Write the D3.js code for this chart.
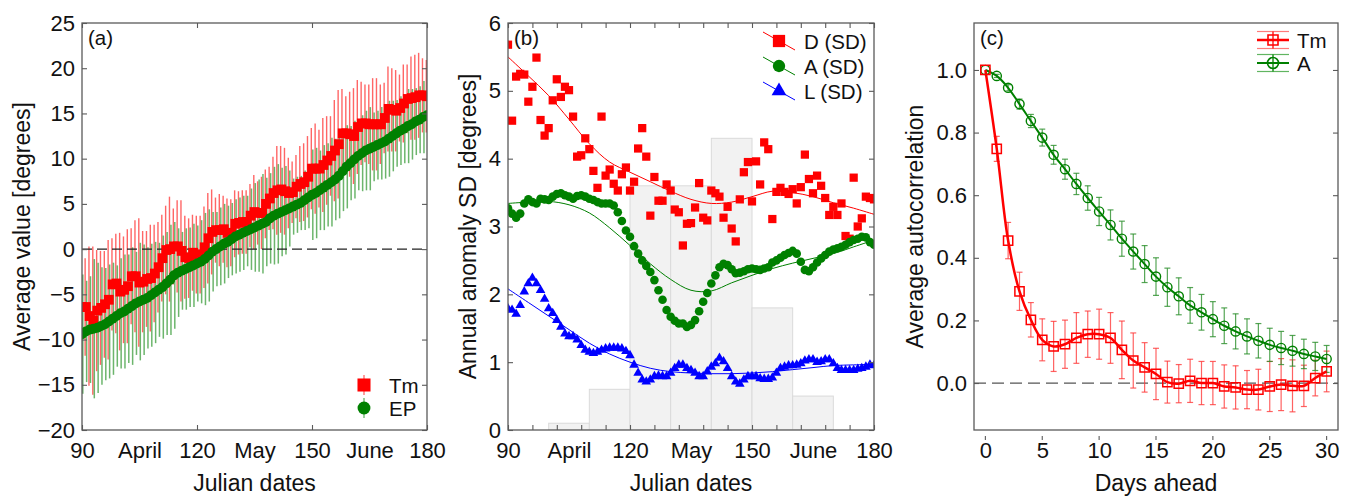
<!DOCTYPE html>
<html>
<head>
<meta charset="utf-8">
<script src="https://cdn.jsdelivr.net/npm/d3@7"></script>
<style>
  body { margin: 0; background: #fff; }
  svg { display: block; }
</style>
</head>
<body>
<svg id="chart" width="1352" height="496"></svg>
<script>
// ---------- Data: panel (a) ----------
const days = d3.range(90, 181);

const tmMean = [
  -6.4, -6.4, -7.4, -7.9, -6.8, -6.5, -6.1, -5.6, -3.9, -3.8,
  -4.7, -4.5, -4.1, -3.0, -3.0, -3.7, -3.6, -3.3, -3.2, -2.7,
  -2.0, -1.0, -0.1, 0.0, 0.3, 0.3, -0.2, -0.9, -1.0, -0.4,
  -0.6, -0.6, 0.2, 1.2, 1.9, 2.1, 2.1, 2.2, 1.8, 1.8,
  2.8, 2.9, 3.0, 3.0, 3.7, 4.1, 4.0, 4.0, 5.0, 5.6,
  6.2, 6.5, 6.6, 6.4, 6.2, 6.3, 6.9, 7.2, 7.4, 8.0,
  8.9, 8.9, 8.9, 9.3, 9.8, 10.3, 10.9, 11.6, 12.8, 12.8,
  12.7, 12.5, 13.5, 13.9, 13.9, 13.8, 13.8, 13.8, 13.8, 14.5,
  15.5, 15.4, 15.3, 15.6, 16.1, 16.6, 16.7, 16.8, 17.0, 17.0,
  16.9
];
const tmSd = [
  5.4, 5.4, 7.7, 8.2, 6.7, 6.3, 5.9, 6.6, 5.1, 5.5,
  6.5, 5.9, 6.3, 5.3, 6.2, 7.1, 5.6, 5.3, 5.9, 5.4,
  5.0, 4.8, 4.9, 5.8, 4.2, 5.1, 5.6, 4.6, 4.4, 4.2,
  4.3, 4.3, 4.5, 5.0, 4.7, 3.6, 4.0, 3.7, 3.8, 3.7,
  3.7, 3.5, 3.5, 3.5, 3.5, 4.1, 3.5, 4.0, 3.8, 3.5,
  4.0, 4.9, 4.8, 4.8, 3.9, 3.4, 3.5, 4.2, 4.3, 4.5,
  4.5, 5.0, 4.3, 5.2, 4.9, 4.4, 5.6, 6.0, 4.9, 4.1,
  4.7, 5.3, 5.2, 4.6, 4.3, 4.4, 5.1, 5.1, 4.4, 3.9,
  4.7, 4.6, 4.5, 3.7, 4.3, 3.8, 4.6, 4.7, 4.7, 4.1,
  4.0
];
const epMean = [
  -9.4, -9.1, -8.9, -8.8, -8.7, -8.5, -8.3, -8.0, -7.7, -7.4,
  -7.1, -6.9, -6.6, -6.3, -6.0, -5.8, -5.6, -5.4, -5.1, -4.8,
  -4.5, -4.2, -3.8, -3.4, -2.9, -2.6, -2.4, -2.2, -2.0, -1.8,
  -1.6, -1.4, -1.1, -0.7, -0.3, 0.0, 0.3, 0.6, 0.8, 1.1,
  1.4, 1.6, 1.8, 2.0, 2.2, 2.4, 2.6, 2.8, 3.0, 3.4,
  3.7, 3.9, 4.1, 4.3, 4.5, 4.7, 4.9, 5.1, 5.4, 5.7,
  6.0, 6.2, 6.5, 6.8, 7.1, 7.4, 7.7, 8.1, 8.6, 9.1,
  9.5, 9.9, 10.3, 10.6, 10.9, 11.1, 11.3, 11.5, 11.7, 11.9,
  12.2, 12.5, 12.8, 13.1, 13.3, 13.6, 13.8, 14.1, 14.3, 14.6,
  14.8
];
const epSd = [
  6.6, 5.6, 5.9, 7.7, 7.2, 6.5, 6.2, 6.3, 6.2, 5.6,
  6.1, 6.3, 6.0, 6.5, 5.7, 6.5, 6.1, 5.6, 5.7, 5.6,
  5.2, 5.7, 5.7, 6.1, 5.9, 4.9, 4.3, 4.5, 4.4, 4.6,
  4.2, 4.6, 5.1, 5.1, 4.4, 4.1, 4.3, 4.4, 4.0, 4.0,
  4.1, 4.1, 4.1, 3.9, 4.5, 4.9, 5.1, 5.5, 4.9, 5.0,
  5.4, 5.5, 4.9, 4.9, 4.2, 3.1, 3.1, 3.0, 3.3, 3.4,
  5.0, 5.0, 4.4, 4.7, 4.6, 4.9, 4.5, 4.7, 4.4, 4.6,
  4.1, 4.3, 3.8, 4.2, 4.4, 4.6, 3.8, 3.8, 4.0, 4.1,
  4.2, 3.9, 3.7, 3.8, 3.8, 4.1, 3.9, 3.7, 3.7, 4.0,
  4.0
];

// ---------- Data: panel (b) ----------
const dSd = [
  5.68, 4.56, 5.21, 5.25, 5.24, 4.84, 5.06, 5.49, 4.57, 4.34,
  4.45, 4.86, 5.17, 4.91, 5.06, 5.01, 4.62, 4.03, 4.05, 4.30,
  4.14, 3.82, 3.57, 4.62, 3.75, 3.84, 3.63, 3.53, 3.77, 3.87,
  3.53, 3.66, 4.15, 4.45, 4.03, 3.16, 3.73, 3.38, 3.38, 3.62,
  3.53, 3.25, 3.21, 2.72, 3.04, 3.05, 3.28, 3.64, 3.13, 3.09,
  3.53, 3.49, 3.44, 3.13, 3.29, 2.97, 2.78, 3.40, 3.80, 3.95,
  3.37, 3.96, 3.62, 4.24, 4.14, 3.11, 3.51, 3.57, 3.51, 3.48,
  3.55, 3.34, 3.58, 4.06, 3.70, 3.49, 3.75, 3.60, 3.42, 3.17,
  3.29, 3.17, 3.34, 2.86, 2.82, 3.72, 3.00, 3.12, 3.44, 3.42,
  3.40
];
const aSd = [
  3.27, 3.19, 3.13, 3.19, 3.34, 3.40, 3.36, 3.34, 3.41, 3.40,
  3.39, 3.44, 3.48, 3.49, 3.46, 3.44, 3.41, 3.45, 3.46, 3.44,
  3.41, 3.39, 3.36, 3.34, 3.34, 3.34, 3.31, 3.21, 3.08, 2.94,
  2.85, 2.71, 2.60, 2.50, 2.42, 2.33, 2.21, 2.06, 1.92, 1.77,
  1.67, 1.61, 1.57, 1.57, 1.52, 1.55, 1.62, 1.75, 1.89, 2.02,
  2.16, 2.28, 2.40, 2.45, 2.43, 2.37, 2.31, 2.32, 2.34, 2.37,
  2.38, 2.37, 2.36, 2.38, 2.40, 2.47, 2.50, 2.54, 2.58, 2.61,
  2.64, 2.60, 2.48, 2.36, 2.34, 2.40, 2.47, 2.53, 2.58, 2.63,
  2.66, 2.68, 2.70, 2.73, 2.77, 2.80, 2.82, 2.85, 2.84, 2.77,
  2.73
];
const lSd = [
  1.79, 1.77, 1.71, 1.84, 2.04, 2.16, 2.24, 2.16, 2.06, 1.93,
  1.79, 1.72, 1.62, 1.52, 1.42, 1.38, 1.38, 1.33, 1.25, 1.18,
  1.15, 1.13, 1.15, 1.18, 1.20, 1.21, 1.21, 1.21, 1.20, 1.16,
  1.10, 0.96, 0.84, 0.74, 0.71, 0.74, 0.79, 0.80, 0.79, 0.79,
  0.84, 0.91, 0.96, 0.96, 0.91, 0.88, 0.84, 0.79, 0.79, 0.86,
  0.93, 0.98, 1.06, 1.01, 0.91, 0.79, 0.71, 0.68, 0.74, 0.79,
  0.79, 0.79, 0.76, 0.75, 0.75, 0.77, 0.84, 0.91, 0.93, 0.95,
  0.95, 0.96, 0.98, 1.02, 1.04, 1.04, 1.00, 1.01, 1.04, 1.04,
  0.98, 0.91, 0.88, 0.88, 0.88, 0.88, 0.90, 0.91, 0.93, 0.96,
  0.95
];
// smooth fits, read every 5 days
const fitDays = d3.range(90, 181, 5);
const dFit = [5.50, 5.22, 4.93, 4.58, 4.22, 3.95, 3.80, 3.66, 3.52, 3.40, 3.34, 3.36, 3.44, 3.52, 3.50, 3.44, 3.35, 3.27, 3.18];
const aFit = [3.34, 3.36, 3.37, 3.32, 3.20, 2.98, 2.72, 2.45, 2.22, 2.06, 2.05, 2.17, 2.28, 2.38, 2.46, 2.53, 2.60, 2.70, 2.80];
const lFit = [2.08, 1.88, 1.68, 1.48, 1.28, 1.12, 1.00, 0.91, 0.86, 0.84, 0.83, 0.83, 0.84, 0.86, 0.89, 0.92, 0.95, 0.96, 0.97];
// background histogram (10-day bins)
const histStart = [100, 110, 120, 130, 140, 150, 160];
const histValue = [0.1, 0.6, 3.6, 3.6, 4.3, 1.8, 0.5];

// ---------- Data: panel (c) ----------
const lags = d3.range(0, 31);
const tmAc = [1.0, 0.748, 0.455, 0.293, 0.202, 0.138, 0.117, 0.124, 0.144, 0.156, 0.156, 0.144, 0.106, 0.072, 0.05, 0.029, 0.003, -0.002, 0.007, 0.0, 0.0, -0.011, -0.014, -0.021, -0.021, -0.011, -0.005, -0.009, -0.009, 0.016, 0.037];
const tmAcErr = [0, 0.04, 0.058, 0.061, 0.055, 0.067, 0.08, 0.077, 0.081, 0.074, 0.08, 0.081, 0.092, 0.088, 0.079, 0.082, 0.067, 0.061, 0.069, 0.069, 0.069, 0.069, 0.069, 0.061, 0.065, 0.08, 0.083, 0.083, 0.066, 0.057, 0.065];
const aAc = [1.0, 0.981, 0.943, 0.891, 0.837, 0.784, 0.729, 0.683, 0.636, 0.591, 0.548, 0.505, 0.461, 0.420, 0.380, 0.340, 0.306, 0.277, 0.248, 0.226, 0.204, 0.183, 0.165, 0.149, 0.135, 0.122, 0.112, 0.103, 0.093, 0.085, 0.077];
const aAcErr = [0, 0.005, 0.01, 0.016, 0.021, 0.027, 0.03, 0.032, 0.034, 0.039, 0.045, 0.048, 0.056, 0.056, 0.059, 0.06, 0.061, 0.059, 0.057, 0.057, 0.056, 0.057, 0.056, 0.056, 0.055, 0.053, 0.053, 0.049, 0.047, 0.045, 0.043];

// axis labels
const monthTicks = [90, 105, 120, 135, 150, 165, 180];
const monthLabels = ["90", "April", "120", "May", "150", "June", "180"];

// ---------- Setup ----------
const FONT = "'Liberation Sans', Arial, Helvetica, sans-serif";
const RED = "#ff0000", GREEN = "#008000", BLUE = "#0000ff";
const FRAME = "#5a5a5a";

const svg = d3.select("#chart").attr("font-family", FONT);
const defs = svg.append("defs");

const boxA = { left: 82, right: 427, top: 23, bottom: 430 };
const boxB = { left: 508, right: 874, top: 23, bottom: 430 };
const boxC = { left: 974, right: 1338, top: 23, bottom: 430 };

function clipFor(id, b) {
  defs.append("clipPath").attr("id", id)
    .append("rect")
    .attr("x", b.left).attr("y", b.top)
    .attr("width", b.right - b.left).attr("height", b.bottom - b.top);
  return `url(#${id})`;
}

function styleAxis(g, size) {
  g.select(".domain").remove();
  g.selectAll(".tick line").attr("stroke", FRAME).attr("stroke-width", 1.1);
  g.selectAll(".tick text").attr("font-size", size).attr("fill", "#111").attr("font-family", FONT);
  return g;
}

// inward ticks on all four sides + frame
function drawFrame(b, x, y, xTicks, yTicks) {
  const g = svg.append("g");
  g.append("g").attr("transform", `translate(0,${b.top})`)
    .call(d3.axisTop(x).tickValues(xTicks).tickSize(-5).tickFormat(""))
    .call(styleAxis, 22);
  g.append("g").attr("transform", `translate(0,${b.bottom})`)
    .call(d3.axisBottom(x).tickValues(xTicks).tickSize(-5).tickFormat(""))
    .call(styleAxis, 22);
  g.append("g").attr("transform", `translate(${b.right},0)`)
    .call(d3.axisRight(y).tickValues(yTicks).tickSize(-5).tickFormat(""))
    .call(styleAxis, 22);
  g.append("rect")
    .attr("x", b.left).attr("y", b.top)
    .attr("width", b.right - b.left).attr("height", b.bottom - b.top)
    .attr("fill", "none").attr("stroke", FRAME).attr("stroke-width", 1.3);
}

function leftAxis(b, y, ticks, fmt) {
  svg.append("g").attr("transform", `translate(${b.left},0)`)
    .call(d3.axisLeft(y).tickValues(ticks).tickSize(-5).tickPadding(7).tickFormat(fmt))
    .call(styleAxis, 22);
}

function bottomLabels(b, x, ticks, labels) {
  svg.append("g").attr("transform", `translate(0,${b.bottom})`)
    .call(d3.axisBottom(x).tickValues(ticks).tickSize(0).tickPadding(12)
      .tickFormat((d, i) => labels[i]))
    .call(styleAxis, 22);
}

function titles(b, xTitle, yTitle, yTitleX, tag) {
  svg.append("text")
    .attr("x", (b.left + b.right) / 2).attr("y", 491)
    .attr("text-anchor", "middle").attr("font-size", 23).attr("fill", "#111")
    .text(xTitle);
  svg.append("text")
    .attr("transform", `translate(${yTitleX},${(b.top + b.bottom) / 2}) rotate(-90)`)
    .attr("text-anchor", "middle").attr("font-size", 23).attr("fill", "#111")
    .text(yTitle);
  svg.append("text")
    .attr("x", b.left + 6).attr("y", 45)
    .attr("font-size", 20.5).attr("fill", "#111")
    .text(tag);
}

const sym = (type, size) => d3.symbol().type(type).size(size)();

// ================= Panel (a) =================
const xA = d3.scaleLinear().domain([90, 180]).range([boxA.left, boxA.right]);
const yA = d3.scaleLinear().domain([-20, 25]).range([boxA.bottom, boxA.top]);
const clipA = clipFor("clipA", boxA);

const pa = svg.append("g").attr("clip-path", clipA);

// error bars (red slightly left, green slightly right)
pa.append("g").selectAll("line").data(days).enter().append("line")
  .attr("x1", (d) => xA(d) - 0.7).attr("x2", (d) => xA(d) - 0.7)
  .attr("y1", (d, i) => yA(tmMean[i] + tmSd[i]))
  .attr("y2", (d, i) => yA(tmMean[i] - tmSd[i]))
  .attr("stroke", "#ff3333").attr("stroke-opacity", 0.75).attr("stroke-width", 1.4);

pa.append("g").selectAll("line").data(days).enter().append("line")
  .attr("x1", (d) => xA(d) + 0.8).attr("x2", (d) => xA(d) + 0.8)
  .attr("y1", (d, i) => yA(epMean[i] + epSd[i]))
  .attr("y2", (d, i) => yA(epMean[i] - epSd[i]))
  .attr("stroke", "#2e962e").attr("stroke-opacity", 0.7).attr("stroke-width", 1.5);

// zero line
pa.append("line")
  .attr("x1", boxA.left).attr("x2", boxA.right)
  .attr("y1", yA(0)).attr("y2", yA(0))
  .attr("stroke", "#222").attr("stroke-width", 1.2).attr("stroke-dasharray", "10,5");

pa.append("g").selectAll("path").data(days).enter().append("path")
  .attr("d", sym(d3.symbolSquare, 96))
  .attr("transform", (d, i) => `translate(${xA(d)},${yA(tmMean[i])})`)
  .attr("fill", RED);

pa.append("g").selectAll("circle").data(days).enter().append("circle")
  .attr("cx", (d) => xA(d)).attr("cy", (d, i) => yA(epMean[i]))
  .attr("r", 5).attr("fill", GREEN);

drawFrame(boxA, xA, yA, [90, 120, 150, 180], d3.range(-20, 26, 5));
leftAxis(boxA, yA, d3.range(-20, 26, 5), d3.format("d"));
bottomLabels(boxA, xA, monthTicks, monthLabels);
titles(boxA, "Julian dates", "Average value [degrees]", 30, "(a)");

// legend (a)
const legA = svg.append("g");
[
  { label: "Tm", y: 385, color: RED, kind: "square" },
  { label: "EP", y: 408, color: GREEN, kind: "circle" }
].forEach((e) => {
  legA.append("line").attr("x1", 364).attr("x2", 364)
    .attr("y1", e.y - 10).attr("y2", e.y + 10)
    .attr("stroke", e.color).attr("stroke-opacity", 0.6).attr("stroke-width", 1.3);
  legA.append("path")
    .attr("d", e.kind === "square" ? sym(d3.symbolSquare, 170) : sym(d3.symbolCircle, 130))
    .attr("transform", `translate(364,${e.y})`).attr("fill", e.color);
  legA.append("text").attr("x", 389).attr("y", e.y + 8)
    .attr("font-size", 20.5).attr("fill", "#111").text(e.label);
});

// ================= Panel (b) =================
const xB = d3.scaleLinear().domain([90, 180]).range([boxB.left, boxB.right]);
const yB = d3.scaleLinear().domain([0, 6]).range([boxB.bottom, boxB.top]);
const clipB = clipFor("clipB", boxB);

const pb = svg.append("g").attr("clip-path", clipB);

pb.append("g").selectAll("rect").data(histStart).enter().append("rect")
  .attr("x", (d) => xB(d)).attr("width", (d) => xB(d + 10) - xB(d))
  .attr("y", (d, i) => yB(histValue[i]))
  .attr("height", (d, i) => yB(0) - yB(histValue[i]))
  .attr("fill", "#f2f2f2").attr("stroke", "#dadada").attr("stroke-width", 1);

pb.append("g").selectAll("path").data(days).enter().append("path")
  .attr("d", sym(d3.symbolSquare, 68))
  .attr("transform", (d, i) => `translate(${xB(d)},${yB(dSd[i])})`)
  .attr("fill", RED);

pb.append("g").selectAll("circle").data(days).enter().append("circle")
  .attr("cx", (d) => xB(d)).attr("cy", (d, i) => yB(aSd[i]))
  .attr("r", 4.3).attr("fill", GREEN);

pb.append("g").selectAll("path").data(days).enter().append("path")
  .attr("d", sym(d3.symbolTriangle, 40))
  .attr("transform", (d, i) => `translate(${xB(d)},${yB(lSd[i])})`)
  .attr("fill", BLUE);

const fitLine = (vals) => d3.line()
  .x((d) => xB(d)).y((d, i) => yB(vals[i]))
  .curve(d3.curveCatmullRom.alpha(0.5))(fitDays);

[[dFit, RED], [aFit, GREEN], [lFit, BLUE]].forEach(([vals, c]) => {
  pb.append("path").attr("d", fitLine(vals))
    .attr("fill", "none").attr("stroke", c).attr("stroke-width", 1);
});

drawFrame(boxB, xB, yB, d3.range(90, 181, 6), d3.range(0, 7, 1));
leftAxis(boxB, yB, d3.range(0, 7, 1), d3.format("d"));
bottomLabels(boxB, xB, monthTicks, monthLabels);
titles(boxB, "Julian dates", "Annual anomaly SD [degrees]", 476, "(b)");

// legend (b)
const legB = svg.append("g");
[
  { label: "D (SD)", y: 41, color: RED, shape: sym(d3.symbolSquare, 150) },
  { label: "A (SD)", y: 66, color: GREEN, shape: sym(d3.symbolCircle, 120) },
  { label: "L (SD)", y: 91, color: BLUE, shape: sym(d3.symbolTriangle, 95) }
].forEach((e) => {
  legB.append("line").attr("x1", 763).attr("x2", 795)
    .attr("y1", e.y - 9).attr("y2", e.y + 9)
    .attr("stroke", e.color).attr("stroke-width", 1);
  legB.append("path").attr("d", e.shape)
    .attr("transform", `translate(779,${e.y})`).attr("fill", e.color);
  legB.append("text").attr("x", 804).attr("y", e.y + 7.5)
    .attr("font-size", 20.5).attr("fill", "#111").text(e.label);
});

// ================= Panel (c) =================
const xC = d3.scaleLinear().domain([-1, 31]).range([boxC.left, boxC.right]);
const yC = d3.scaleLinear().domain([-0.15, 1.15]).range([boxC.bottom, boxC.top]);
const clipC = clipFor("clipC", boxC);

const pc = svg.append("g").attr("clip-path", clipC);

pc.append("line")
  .attr("x1", boxC.left).attr("x2", boxC.right)
  .attr("y1", yC(0)).attr("y2", yC(0))
  .attr("stroke", "#555").attr("stroke-width", 1.2).attr("stroke-dasharray", "12,6");

function errorBars(g, vals, errs, color) {
  const eb = g.append("g").attr("stroke", color).attr("stroke-width", 1.2).attr("stroke-opacity", 0.8);
  lags.forEach((d, i) => {
    if (errs[i] <= 0) return;
    const x = xC(d), y0 = yC(vals[i] - errs[i]), y1 = yC(vals[i] + errs[i]);
    eb.append("line").attr("x1", x).attr("x2", x).attr("y1", y0).attr("y2", y1);
    eb.append("line").attr("x1", x - 3).attr("x2", x + 3).attr("y1", y0).attr("y2", y0);
    eb.append("line").attr("x1", x - 3).attr("x2", x + 3).attr("y1", y1).attr("y2", y1);
  });
}
errorBars(pc, tmAc, tmAcErr, "#ff3b3b");
errorBars(pc, aAc, aAcErr, "#2a8f2a");

const acLine = (vals) => d3.line()
  .x((d) => xC(d)).y((d, i) => yC(vals[i]))
  .curve(d3.curveCatmullRom.alpha(0.5))(lags);

pc.append("path").attr("d", acLine(aAc))
  .attr("fill", "none").attr("stroke", GREEN).attr("stroke-width", 2);
pc.append("path").attr("d", acLine(tmAc))
  .attr("fill", "none").attr("stroke", RED).attr("stroke-width", 2.5);

pc.append("g").selectAll("circle").data(lags).enter().append("circle")
  .attr("cx", (d) => xC(d)).attr("cy", (d, i) => yC(aAc[i]))
  .attr("r", 4.6).attr("fill", "none").attr("stroke", GREEN).attr("stroke-width", 1.4);

pc.append("g").selectAll("path").data(lags).enter().append("path")
  .attr("d", sym(d3.symbolSquare, 85))
  .attr("transform", (d, i) => `translate(${xC(d)},${yC(tmAc[i])})`)
  .attr("fill", "none").attr("stroke", RED).attr("stroke-width", 1.5);

drawFrame(boxC, xC, yC, [], d3.range(0, 1.01, 0.2));
leftAxis(boxC, yC, d3.range(0, 1.01, 0.2), d3.format(".1f"));
svg.append("g").attr("transform", `translate(0,${boxC.bottom})`)
  .call(d3.axisBottom(xC).tickValues(d3.range(0, 31, 5)).tickSize(0).tickPadding(12).tickFormat(d3.format("d")))
  .call(styleAxis, 22);
svg.append("g").selectAll("line").data(d3.range(0, 31, 5)).enter().append("line")
  .attr("x1", (d) => xC(d)).attr("x2", (d) => xC(d))
  .attr("y1", boxC.bottom + 6).attr("y2", boxC.bottom + 10)
  .attr("stroke", FRAME).attr("stroke-width", 1.1);
titles(boxC, "Days ahead", "Average autocorrelation", 923, "(c)");

// legend (c)
const legC = svg.append("g");
[
  { label: "Tm", y: 40, color: RED, light: "#ff5a5a", w: 2.5, shape: sym(d3.symbolSquare, 100) },
  { label: "A", y: 63, color: GREEN, light: "#3aa33a", w: 2, shape: sym(d3.symbolCircle, 95) }
].forEach((e) => {
  [e.y - 8.5, e.y + 8.5].forEach((yy) => {
    legC.append("line").attr("x1", 1257).attr("x2", 1289).attr("y1", yy).attr("y2", yy)
      .attr("stroke", e.light).attr("stroke-opacity", 0.8).attr("stroke-width", 1.2);
  });
  legC.append("line").attr("x1", 1273).attr("x2", 1273).attr("y1", e.y - 8.5).attr("y2", e.y + 8.5)
    .attr("stroke", e.color).attr("stroke-width", 1.3);
  legC.append("line").attr("x1", 1257).attr("x2", 1289).attr("y1", e.y).attr("y2", e.y)
    .attr("stroke", e.color).attr("stroke-width", e.w);
  legC.append("path").attr("d", e.shape).attr("transform", `translate(1273,${e.y})`)
    .attr("fill", "none").attr("stroke", e.color).attr("stroke-width", 1.6);
  legC.append("text").attr("x", 1297).attr("y", e.y + 7.5)
    .attr("font-size", 20.5).attr("fill", "#111").text(e.label);
});
</script>
</body>
</html>
